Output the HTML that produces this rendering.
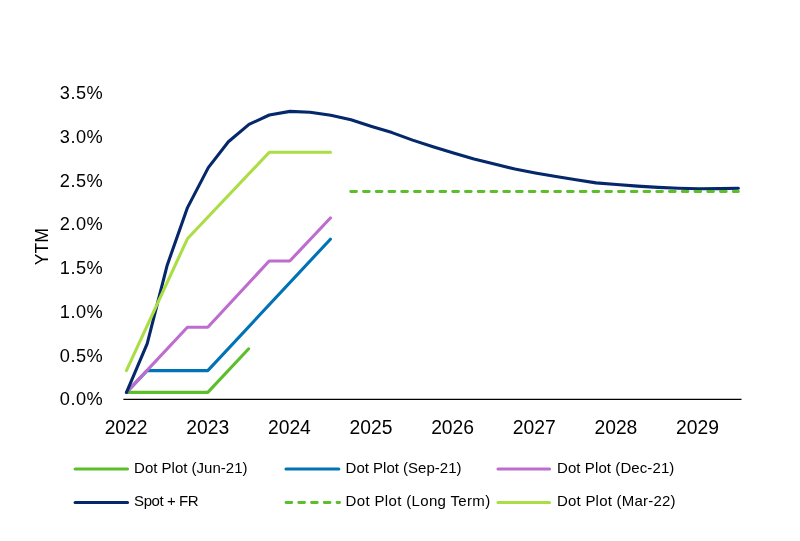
<!DOCTYPE html>
<html>
<head>
<meta charset="utf-8">
<title>YTM chart</title>
<style>
html,body{margin:0;padding:0;background:#ffffff;}
body{width:800px;height:541px;overflow:hidden;font-family:"Liberation Sans",sans-serif;}
svg{display:block;will-change:transform;}
text{font-family:"Liberation Sans",sans-serif;fill:#000000;}
.yl{font-size:18.2px;text-anchor:end;letter-spacing:0.45px;}
.xl{font-size:19.3px;text-anchor:middle;}
.lg{font-size:15px;text-anchor:start;}
.ln{fill:none;stroke-width:3.1;stroke-linecap:round;stroke-linejoin:round;}
</style>
</head>
<body>
<svg width="800" height="541" viewBox="0 0 800 541">

<!-- y axis labels -->
<text class="yl" x="103.1" y="99.3">3.5%</text>
<text class="yl" x="103.1" y="143.0">3.0%</text>
<text class="yl" x="103.1" y="186.7">2.5%</text>
<text class="yl" x="103.1" y="230.4">2.0%</text>
<text class="yl" x="103.1" y="274.1">1.5%</text>
<text class="yl" x="103.1" y="317.8">1.0%</text>
<text class="yl" x="103.1" y="361.5">0.5%</text>
<text class="yl" x="103.1" y="405.2">0.0%</text>

<!-- y axis title -->
<text x="0" y="0" font-size="17.6" text-anchor="middle" transform="translate(48.2,246.7) rotate(-90)">YTM</text>

<!-- x axis line -->
<line x1="123.4" y1="399.4" x2="741.5" y2="399.4" stroke="#000000" stroke-width="1.35"/>

<!-- x axis labels -->
<text class="xl" x="126.1" y="433.6">2022</text>
<text class="xl" x="207.7" y="433.6">2023</text>
<text class="xl" x="289.4" y="433.6">2024</text>
<text class="xl" x="371.0" y="433.6">2025</text>
<text class="xl" x="452.6" y="433.6">2026</text>
<text class="xl" x="534.2" y="433.6">2027</text>
<text class="xl" x="615.9" y="433.6">2028</text>
<text class="xl" x="697.5" y="433.6">2029</text>

<!-- series -->
<!-- Dot Plot (Jun-21) -->
<path class="ln" stroke="#5dbe2c" d="M126.5 392.4 L207.8 392.4 L248.7 348.8"/>
<!-- Dot Plot (Sep-21) -->
<path class="ln" stroke="#0072b6" d="M126.5 392.4 L147.0 370.6 L207.8 370.6 L330.4 239.2"/>
<!-- Dot Plot (Dec-21) -->
<path class="ln" stroke="#bd6dcf" d="M126.5 392.4 L187.4 327.2 L207.8 327.2 L269.2 261.0 L289.8 261.0 L330.4 218.0"/>
<!-- Spot + FR -->
<path class="ln" stroke="#05286b" d="M126.5 392.4 L147.2 343.6 L167.2 265.2 L187.5 207.6 L208.3 167.6 L228.4 141.8 L249 124.4 L269.3 115.0 L290 111.4 L310 112.2 L330.8 115.3 L351 119.8 L371.7 126.4 L392 132.6 L412.6 140.1 L433 146.7 L453.5 153.0 L474 159.0 L494.4 164.1 L514.9 169.1 L535.3 173.0 L556 176.5 L576 179.8 L596 182.9 L616.5 184.5 L637.5 186.1 L658 187.4 L678.5 188.3 L699 188.8 L719.5 188.6 L738.4 188.2"/>
<!-- Dot Plot (Long Term) dashed -->
<path class="ln" stroke="#5dbe2c" style="stroke-width:2.8" stroke-dasharray="5.8 6.95" d="M350.7 191.5 L738.4 191.5"/>
<!-- Dot Plot (Mar-22) -->
<path class="ln" stroke="#abde45" d="M126.4 370.6 L187.4 238.8 L269.3 152.25 L330.5 152.25"/>

<!-- legend -->
<path class="ln" stroke="#5dbe2c" d="M75.1 469 L127.5 469"/>
<text class="lg" x="134.1" y="473.3">Dot Plot (Jun-21)</text>
<path class="ln" stroke="#0072b6" d="M286 469 L338.8 469"/>
<text class="lg" x="345.6" y="473.3">Dot Plot (Sep-21)</text>
<path class="ln" stroke="#bd6dcf" d="M498 469 L549.5 469"/>
<text class="lg" x="557.0" y="473.3" letter-spacing="0.09">Dot Plot (Dec-21)</text>

<path class="ln" stroke="#05286b" d="M75.1 502.5 L127.5 502.5"/>
<text class="lg" x="134.1" y="506.4" letter-spacing="-0.44">Spot + FR</text>
<path class="ln" stroke="#5dbe2c" style="stroke-width:2.8" stroke-dasharray="5.8 6.95" d="M286 502.5 L339.6 502.5"/>
<text class="lg" x="345.6" y="506.4" letter-spacing="0.34">Dot Plot (Long Term)</text>
<path class="ln" stroke="#abde45" d="M498 502.5 L549.5 502.5"/>
<text class="lg" x="557.0" y="506.4" letter-spacing="0.22">Dot Plot (Mar-22)</text>
</svg>
</body>
</html>
